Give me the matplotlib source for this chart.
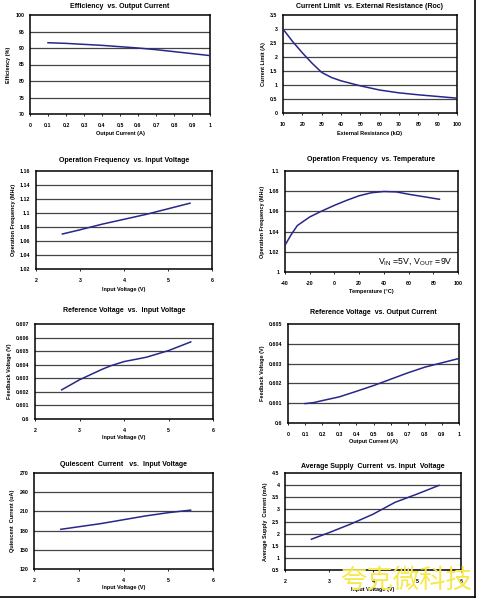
import matplotlib
matplotlib.use('Agg')
import matplotlib.pyplot as plt
from matplotlib.ticker import FuncFormatter
from matplotlib.lines import Line2D

plt.rcParams['font.family'] = ['Liberation Sans', 'DejaVu Sans']

W, H = 480, 599

# ---- data ----
eff_x = [0.1, 0.2, 0.3, 0.4, 0.5, 0.6, 0.7, 0.8, 0.9, 1.0]
eff_y = [91.6, 91.4, 91.1, 90.8, 90.4, 90.0, 89.5, 88.9, 88.3, 87.7]

roc_x = [10, 15, 20, 25, 30, 35, 40, 50, 60, 70, 80, 90, 100]
ilim_y = [3.0, 2.55, 2.15, 1.78, 1.45, 1.27, 1.15, 0.97, 0.82, 0.72, 0.65, 0.59, 0.53]

fvin_x = [2.6, 3.0, 3.5, 4.0, 4.5, 5.0, 5.5]
fvin_y = [1.070, 1.076, 1.084, 1.091, 1.098, 1.106, 1.114]

temp_x = [-40, -35, -30, -20, -10, 0, 10, 20, 30, 40, 50, 60, 70, 85]
ftemp_y = [1.0265, 1.037, 1.046, 1.0545, 1.0605, 1.066, 1.071, 1.0755, 1.0785, 1.0797, 1.0793, 1.077, 1.075, 1.072]

vref_vin_x = [2.6, 3.0, 3.5, 3.7, 4.0, 4.5, 5.0, 5.5]
vref_vin_y = [0.60215, 0.60289, 0.60365, 0.60392, 0.60423, 0.60455, 0.60504, 0.60568]

vref_io_x = [0.1, 0.15, 0.2, 0.3, 0.4, 0.5, 0.6, 0.7, 0.8, 0.9, 1.0]
vref_io_y = [0.60098, 0.60103, 0.60113, 0.60132, 0.60160, 0.60189, 0.60221, 0.60253, 0.60282, 0.60304, 0.60326]

iq_x = [2.6, 3.0, 3.5, 4.0, 4.5, 5.0, 5.5]
iq_y = [182, 186, 191, 197, 203, 208, 212]

isup_x = [2.6, 3.0, 3.5, 4.0, 4.5, 5.0, 5.5]
isup_y = [1.77, 2.04, 2.40, 2.80, 3.29, 3.63, 3.99]

fig = plt.figure(figsize=(W / 100, H / 100), dpi=100)
fig.patch.set_facecolor('white')

LINE = '#27278a'
GRID = '#444444'
fmt = FuncFormatter(lambda v, p: '%g' % round(v, 6))


def panel(l, t, r, b, x, y, xlim, xticks, ylim, yticks, title, xlabel, ylabel,
          title_y, xlabel_y):
    ax = fig.add_axes([l / W, 1 - b / H, (r - l) / W, (b - t) / H])
    ax.plot(x, y, color=LINE, lw=1.1, zorder=3)
    ax.set_xlim(*xlim)
    ax.set_ylim(*ylim)
    ax.set_xticks(xticks)
    ax.set_yticks(yticks)
    ax.xaxis.set_major_formatter(fmt)
    ax.yaxis.set_major_formatter(fmt)
    for yt in yticks[1:-1]:
        ax.axhline(yt, color=GRID, lw=0.9, zorder=1)
    for s in ax.spines.values():
        s.set_linewidth(1.1)
        s.set_color('black')
    ax.tick_params(axis='x', length=1.5, width=0.6, pad=5, labelsize=3.8)
    ax.tick_params(axis='y', length=0, pad=4, labelsize=3.8)
    for lab in ax.get_xticklabels() + ax.get_yticklabels():
        lab.set_fontweight('bold')
    fig.text((l + r) / 2 / W, 1 - title_y / H, title, ha='center', va='center',
             fontsize=5.0, fontweight='bold')
    fig.text((l + r) / 2 / W, 1 - xlabel_y / H, xlabel, ha='center', va='center',
             fontsize=4.0, fontweight='bold')
    ax.set_ylabel(ylabel, fontsize=4.0, fontweight='bold', labelpad=3)
    return ax


panel(30, 15, 210, 114, eff_x, eff_y, (0, 1), [0, .1, .2, .3, .4, .5, .6, .7, .8, .9, 1],
      (70, 100), [70, 75, 80, 85, 90, 95, 100],
      'Efficiency  vs. Output Current', 'Output Current (A)', 'Efficiency (%)', 7, 134)

panel(283, 15, 457, 113, roc_x, ilim_y, (10, 100), list(range(10, 101, 10)),
      (0, 3.5), [0, .5, 1, 1.5, 2, 2.5, 3, 3.5],
      'Current Limit  vs. External Resistance (Roc)', 'External Resistance (k\u03a9)',
      'Current Limit (A)', 7, 133)

panel(36, 171, 212, 269, fvin_x, fvin_y, (2, 6), [2, 3, 4, 5, 6],
      (1.02, 1.16), [1.02, 1.04, 1.06, 1.08, 1.10, 1.12, 1.14, 1.16],
      'Operation Frequency  vs. Input Voltage', 'Input Voltage (V)',
      'Operation Frequency (MHz)', 161, 289)

ax4 = panel(285, 171, 458, 272, temp_x, ftemp_y, (-40, 100), list(range(-40, 101, 20)),
            (1.0, 1.1), [1.0, 1.02, 1.04, 1.06, 1.08, 1.1],
            'Operation Frequency  vs. Temperature', 'Temperature (\u00b0C)',
            'Operation Frequency (MHz)', 159, 291)
ax4.text(0.97, 0.05, r'V$_{\mathregular{IN}}$ =5V, V$_{\mathregular{OUT}}$ =9V',
         transform=ax4.transAxes, ha='right', va='bottom', fontsize=6.3)

panel(35, 324, 213, 419, vref_vin_x, vref_vin_y, (2, 6), [2, 3, 4, 5, 6],
      (0.600, 0.607), [0.600, 0.601, 0.602, 0.603, 0.604, 0.605, 0.606, 0.607],
      'Reference Voltage  vs.  Input Voltage', 'Input Voltage (V)',
      'Feedback Voltage (V)', 310, 437)

panel(288, 324, 459, 423, vref_io_x, vref_io_y, (0, 1),
      [0, .1, .2, .3, .4, .5, .6, .7, .8, .9, 1],
      (0.600, 0.605), [0.600, 0.601, 0.602, 0.603, 0.604, 0.605],
      'Reference Voltage  vs. Output Current', 'Output Current (A)',
      'Feedback Voltage (V)', 312, 441)

panel(34, 473, 213, 569, iq_x, iq_y, (2, 6), [2, 3, 4, 5, 6],
      (120, 270), [120, 150, 180, 210, 240, 270],
      'Quiescent  Current   vs.  Input Voltage', 'Input Voltage (V)',
      'Quiescent  Current (uA)', 464, 588)

panel(285, 473, 461, 570, isup_x, isup_y, (2, 6), [2, 3, 4, 5, 6],
      (0.5, 4.5), [0.5, 1, 1.5, 2, 2.5, 3, 3.5, 4, 4.5],
      'Average Supply  Current  vs. Input  Voltage', 'Input Voltage (V)',
      'Average Supply  Current (mA)', 466, 589)

# page border lines (right and bottom)
fig.add_artist(Line2D([475 / W, 475 / W], [1 - 597 / H, 1], color='black', lw=1.2))
fig.add_artist(Line2D([0, 475 / W], [1 - 597 / H, 1 - 597 / H], color='black', lw=1.2))

# watermark over the last panel, as in the source page
fig.text(406 / W, 1 - 580 / H, '\u5938\u514b\u5fae\u79d1\u6280', ha='center', va='center',
         fontsize=19, color='#f6e84a', family=['Noto Sans CJK SC', 'DejaVu Sans'], zorder=10)

fig.savefig('out.png', dpi=100, facecolor='white')
